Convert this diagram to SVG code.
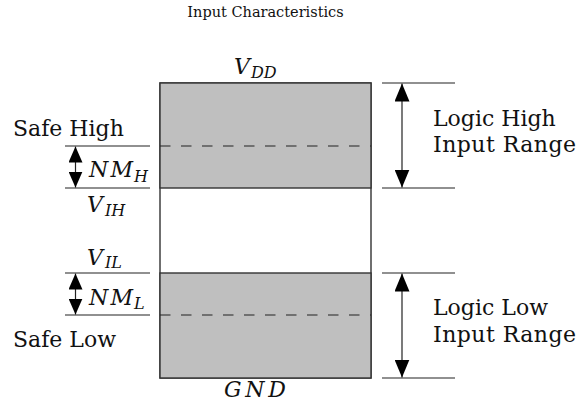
<svg xmlns="http://www.w3.org/2000/svg" width="579" height="410" viewBox="0 0 579 410">
<style>
.t{font-family:"DejaVu Serif","Liberation Serif",serif;font-size:22px;fill:#111}
.m{font-family:"DejaVu Serif","Liberation Serif",serif;font-style:italic;font-size:22px;fill:#111}
.s{font-family:"DejaVu Serif","Liberation Serif",serif;font-style:italic;font-size:16px;fill:#111}
.title{font-family:"DejaVu Serif","Liberation Serif",serif;font-size:14.5px;fill:#111}
.ln{stroke:#222;stroke-width:1.2;fill:none}
.box{fill:#bfbfbf;stroke:#333;stroke-width:1.4}
.dash{stroke:#222;stroke-width:1.2;stroke-dasharray:10.5 10.5}
</style>
<defs>
<marker id="ab" viewBox="0 0 18 15" refX="18" refY="7.5" markerWidth="18" markerHeight="15" markerUnits="userSpaceOnUse" orient="auto-start-reverse">
<path d="M0,0 L18,7.5 L0,15 z" fill="#000"/>
</marker>
<marker id="as" viewBox="0 0 16 14" refX="16" refY="7" markerWidth="16" markerHeight="14" markerUnits="userSpaceOnUse" orient="auto-start-reverse">
<path d="M0,0 L16,7 L0,14 z" fill="#000"/>
</marker>
</defs>
<text class="title" x="265.5" y="17" text-anchor="middle">Input Characteristics</text>
<g id="bar">
<rect x="160" y="83" width="211" height="295" fill="#fff" stroke="#333" stroke-width="1.4"/>
<rect class="box" x="160" y="83" width="211" height="105"/>
<rect class="box" x="160" y="273" width="211" height="105"/>
<line class="dash" x1="160" y1="146" x2="371" y2="146"/>
<line class="dash" x1="160" y1="315" x2="371" y2="315"/>
</g>
<g id="vdd">
<text class="m" x="234" y="74">V</text><text class="s" x="251" y="78">DD</text>
</g>
<g id="gnd">
<text class="m" x="224" y="397" textLength="62">GND</text>
</g>
<g id="safe-high">
<text class="t" x="13" y="136">Safe High</text>
<text class="m" x="89" y="177" textLength="44">NM</text><text class="s" x="134" y="181.5">H</text>
<text class="m" x="87" y="212">V</text><text class="s" x="105" y="215.5">IH</text>
</g>
<g id="safe-low">
<text class="m" x="87" y="265">V</text><text class="s" x="105" y="268">IL</text>
<text class="m" x="89" y="305" textLength="44">NM</text><text class="s" x="134" y="309">L</text>
<text class="t" x="13" y="347">Safe Low</text>
</g>
<g id="logic-high">
<text class="t" x="433" y="125.5">Logic High</text>
<text class="t" x="433" y="152" textLength="143">Input Range</text>
</g>
<g id="logic-low">
<text class="t" x="433" y="315">Logic Low</text>
<text class="t" x="433" y="342" textLength="143">Input Range</text>
</g>
<g id="connectors">
<line class="ln" x1="65" y1="146" x2="150" y2="146"/>
<line class="ln" x1="65" y1="188" x2="150" y2="188"/>
<line class="ln" x1="65" y1="273" x2="150" y2="273"/>
<line class="ln" x1="65" y1="315" x2="150" y2="315"/>
<line class="ln" x1="382" y1="83" x2="455" y2="83"/>
<line class="ln" x1="382" y1="188" x2="455" y2="188"/>
<line class="ln" x1="382" y1="273" x2="455" y2="273"/>
<line class="ln" x1="382" y1="378" x2="455" y2="378"/>
<line class="ln" x1="75.5" y1="146.5" x2="75.5" y2="187.5" marker-start="url(#as)" marker-end="url(#as)"/>
<line class="ln" x1="75.5" y1="273.5" x2="75.5" y2="314.5" marker-start="url(#as)" marker-end="url(#as)"/>
<line class="ln" x1="402" y1="83.5" x2="402" y2="187.5" marker-start="url(#ab)" marker-end="url(#ab)"/>
<line class="ln" x1="402" y1="273.5" x2="402" y2="377.5" marker-start="url(#ab)" marker-end="url(#ab)"/>
</g>
</svg>
